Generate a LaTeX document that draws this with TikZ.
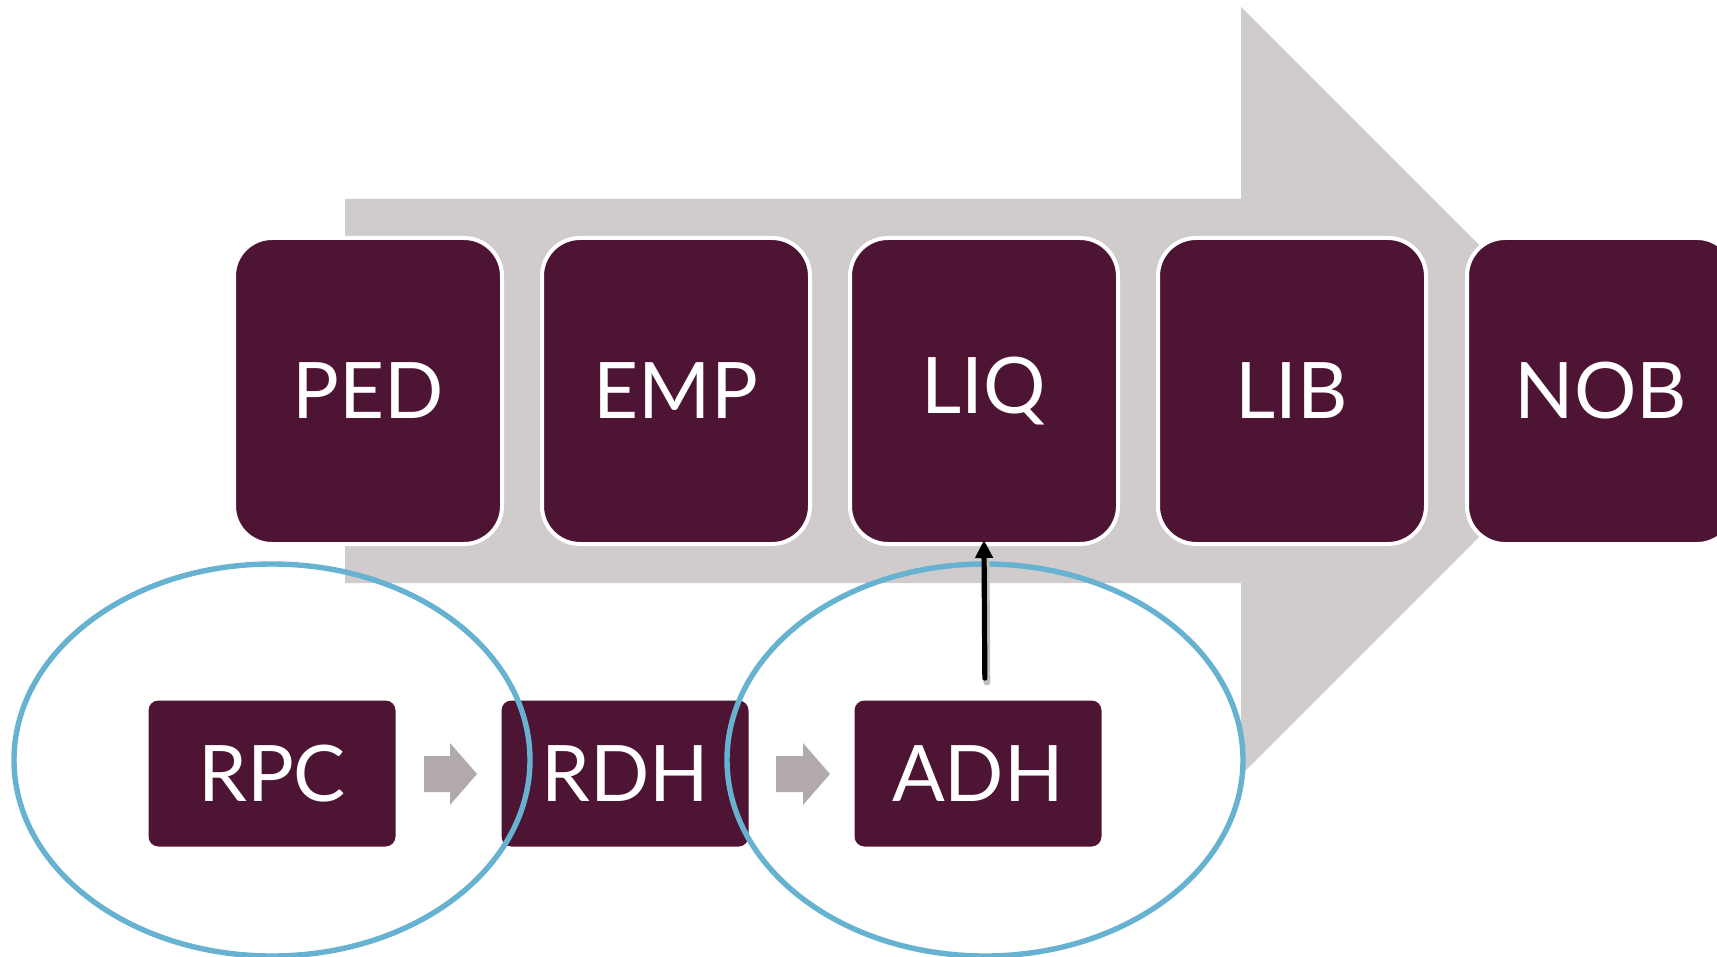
\documentclass[tikz,border=0pt]{standalone}
\usepackage{fontspec}
\setmainfont{Lato}
\usetikzlibrary{shapes.geometric,arrows.meta}
\definecolor{boxplum}{HTML}{4D1434}
\definecolor{biggray}{HTML}{D0CCCD}
\definecolor{smallgray}{HTML}{B2A9AD}
\definecolor{ringblue}{HTML}{66B2D0}
\tikzset{
  bigbox/.style={rectangle, rounded corners=19pt, fill=boxplum, draw=white, line width=2pt,
    minimum width=134pt, minimum height=153pt, inner sep=0pt, text=white,
    font=\fontsize{39}{39}\selectfont},
  smallbox/.style={rectangle, rounded corners=5pt, fill=boxplum, draw=none,
    minimum width=123.5pt, minimum height=73pt, inner sep=0pt, text=white,
    font=\fontsize{39}{39}\selectfont},
  ring/.style={ellipse, draw=ringblue, line width=2.7pt, fill=none,
    minimum width=258pt, minimum height=196pt, inner sep=0pt},
  linkarrow/.style={draw=black, line width=2.6pt, line cap=round,
    -{Triangle[length=9pt,width=8.5pt]}}
}
\begin{document}
\begin{tikzpicture}[x=0.5pt,y=-0.5pt]
\fill[white] (0,0) rectangle (1717,957);
\useasboundingbox (0,0) rectangle (1717,957);
% big background arrow
\fill[biggray] (345,199) -- (1241,199) -- (1241,7) -- (1625,391) -- (1241,775) -- (1241,583) -- (345,583) -- cycle;
% top row
\node[bigbox] (PED) at (368,391) {PED};
\node[bigbox] (EMP) at (676,391) {EMP};
\node[bigbox] (LIQ) at (984,391) {LIQ};
\node[bigbox] (LIB) at (1292,391) {LIB};
\node[bigbox] (NOB) at (1601,391) {NOB};
% small arrows
\fill[smallgray] (424,756) -- (450,756) -- (450,743) -- (477,774) -- (450,805) -- (450,792) -- (424,792) -- cycle;
\fill[smallgray] (776,756) -- (803,756) -- (803,743) -- (830,774) -- (803,805) -- (803,792) -- (776,792) -- cycle;
% bottom row
\node[smallbox] (RPC) at (272,773.5) {RPC};
\node[smallbox] (RDH) at (625,773.5) {RDH};
\node[smallbox] (ADH) at (978,773.5) {ADH};
% rings
\node[ring] (ring1) at (272,760) {};
\node[ring] (ring2) at (985,760) {};
% link arrow (with a soft shadow)
\draw[draw=black!25, line width=3.4pt, line cap=round, shorten <=10pt, shorten >=7pt]
  ([xshift=4.5pt,yshift=-1pt]ADH.north) -- ([xshift=1pt,yshift=-1pt]LIQ.south);
\draw[linkarrow, shorten <=11pt, shorten >=-3pt] ([xshift=3.5pt]ADH.north) -- (LIQ.south);
\end{tikzpicture}
\end{document}
